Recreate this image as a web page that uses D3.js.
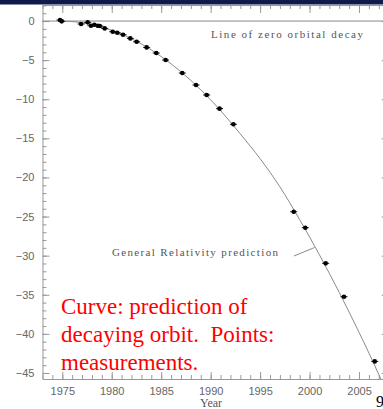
<!DOCTYPE html>
<html>
<head>
<meta charset="utf-8">
<script src="https://cdn.jsdelivr.net/npm/d3@7"></script>
<style>
  html, body { margin: 0; padding: 0; background: #fff; }
  svg { display: block; }
</style>
</head>
<body>
<svg id="chart" width="383" height="409"></svg>
<script>
// measured orbital decay (cumulative periastron shift, s) vs year
const years = [1974.77, 1974.94, 1976.9, 1977.57, 1977.9, 1978.24, 1978.58, 1978.8, 1979.29,
  1980.1, 1980.56, 1981.14, 1981.88, 1982.52, 1983.53, 1984.5, 1985.45, 1987.13, 1988.52,
  1989.6, 1990.9, 1992.3, 1998.4, 1999.57, 2001.63, 2003.48, 2006.59];
const shifts = [0.13, -0.04, -0.38, -0.17, -0.6, -0.47, -0.6, -0.64, -0.94,
  -1.37, -1.5, -1.75, -2.22, -2.65, -3.37, -4.09, -4.99, -6.65, -8.18,
  -9.46, -11.2, -13.2, -24.39, -26.43, -30.98, -35.25, -43.52];

// General Relativity prediction curve
const curveYears = [1974.8, 1977, 1979, 1981, 1983, 1985, 1987, 1989, 1991, 1993,
  1995, 1997, 1999, 2001, 2003, 2005, 2007, 2008];
const curveShift = [0, -0.21, -0.77, -1.68, -2.93, -4.54, -6.49, -8.79, -11.44, -14.44,
  -17.6, -21.2, -25.4, -29.9, -34.7, -39.8, -45.2, -48.1];

const yearTicks = [1975, 1980, 1985, 1990, 1995, 2000, 2005];
const shiftTicks = [0, -5, -10, -15, -20, -25, -30, -35, -40, -45];

const svg = d3.select('#chart');
const W = 383, H = 409;
const plot = { left: 42.5, right: 388.7, top: 5, bottom: 379 };

const x = d3.scaleLinear().domain([1973, 2008]).range([plot.left, plot.right]);
const y = d3.scaleLinear().domain([2.05, -45.77]).range([plot.top, plot.bottom]);

const axisColor = '#9a9a9a';
const labelColor = '#666';

svg.append('defs').append('clipPath').attr('id', 'plot-clip')
  .append('rect')
  .attr('x', plot.left).attr('y', plot.top)
  .attr('width', plot.right - plot.left).attr('height', plot.bottom - plot.top);

// axes
function styleAxis(sel) {
  sel.selectAll('path').attr('stroke', axisColor).attr('stroke-width', 1);
  sel.selectAll('line').attr('stroke', axisColor).attr('stroke-width', 1);
  sel.selectAll('text').attr('fill', labelColor)
    .style('font-family', '"Liberation Sans", Arial, sans-serif').style('font-size', '11px');
}

const minorYears = d3.range(1973, 2009);
const minorShift = d3.range(2, -46, -1);

// bottom
svg.append('g').attr('transform', `translate(0,${plot.bottom})`)
  .call(d3.axisBottom(x).tickValues(minorYears).tickFormat('').tickSize(-4).tickSizeOuter(0))
  .call(styleAxis);
svg.append('g').attr('transform', `translate(0,${plot.bottom})`)
  .call(d3.axisBottom(x).tickValues(yearTicks).tickFormat(d3.format('d')).tickSize(-7).tickSizeOuter(0).tickPadding(8))
  .call(styleAxis)
  .call(g => g.select('.domain').remove());

// top
svg.append('g').attr('transform', `translate(0,${plot.top})`)
  .call(d3.axisTop(x).tickValues(minorYears).tickFormat('').tickSize(-4).tickSizeOuter(0))
  .call(styleAxis);
svg.append('g').attr('transform', `translate(0,${plot.top})`)
  .call(d3.axisTop(x).tickValues(yearTicks).tickFormat('').tickSize(-8).tickSizeOuter(0))
  .call(styleAxis)
  .call(g => g.select('.domain').remove());

// left
svg.append('g').attr('transform', `translate(${plot.left},0)`)
  .call(d3.axisLeft(y).tickValues(minorShift).tickFormat('').tickSize(-4).tickSizeOuter(0))
  .call(styleAxis);
svg.append('g').attr('transform', `translate(${plot.left},0)`)
  .call(d3.axisLeft(y).tickValues(shiftTicks).tickSize(-7).tickSizeOuter(0).tickPadding(8))
  .call(styleAxis)
  .call(g => g.select('.domain').remove());

// right (mostly off the slide)
svg.append('g').attr('transform', `translate(${plot.right},0)`)
  .call(d3.axisRight(y).tickValues(shiftTicks).tickFormat('').tickSize(-7).tickSizeOuter(0))
  .call(styleAxis);

// line of zero decay
svg.append('line')
  .attr('x1', plot.left).attr('x2', plot.right)
  .attr('y1', y(0)).attr('y2', y(0))
  .attr('stroke', '#8a8a8a').attr('stroke-width', 1);

// GR prediction curve
const line = d3.line().x(d => x(d[0])).y(d => y(d[1])).curve(d3.curveMonotoneX);
svg.append('path')
  .datum(d3.zip(curveYears, curveShift))
  .attr('clip-path', 'url(#plot-clip)')
  .attr('d', line)
  .attr('fill', 'none').attr('stroke', '#8a8a8a').attr('stroke-width', 1);

// measurements with small error bars
const pts = svg.append('g');
d3.zip(years, shifts).forEach(([yr, v]) => {
  pts.append('line')
    .attr('x1', x(yr) - 3.5).attr('x2', x(yr) + 3.5)
    .attr('y1', y(v)).attr('y2', y(v))
    .attr('stroke', '#111').attr('stroke-width', 1);
  pts.append('circle')
    .attr('cx', x(yr)).attr('cy', y(v)).attr('r', 2.3)
    .attr('fill', '#000');
});

// plot annotations
const noteFont = '"Liberation Serif", "DejaVu Serif", serif';
svg.append('text')
  .attr('x', 211).attr('y', 37.5)
  .attr('textLength', 152).attr('lengthAdjust', 'spacing')
  .attr('fill', '#555').style('font-family', noteFont).style('font-size', '11px')
  .text('Line of zero orbital decay');

svg.append('text')
  .attr('x', 112).attr('y', 256)
  .attr('textLength', 166).attr('lengthAdjust', 'spacing')
  .attr('fill', '#555').style('font-family', noteFont).style('font-size', '11px')
  .text('General Relativity prediction');
svg.append('line')
  .attr('x1', 294).attr('y1', 256).attr('x2', 314.5).attr('y2', 247.5)
  .attr('stroke', '#8a8a8a').attr('stroke-width', 1);

svg.append('text')
  .attr('x', 211).attr('y', 407).attr('text-anchor', 'middle')
  .attr('fill', '#555').style('font-family', noteFont).style('font-size', '12px')
  .text('Year');

// slide overlay: caption in red
const caption = ['Curve: prediction of', 'decaying orbit.  Points:', 'measurements.'];
svg.append('g').selectAll('text').data(caption).enter().append('text')
  .attr('x', 61).attr('y', (d, i) => 313.5 + i * 28)
  .attr('fill', '#ff0000')
  .style('font-family', '"Liberation Serif", "Times New Roman", serif')
  .style('font-size', '23px').style('white-space', 'pre')
  .text(d => d);

// top banner of the slide and page number
svg.append('rect').attr('x', 0).attr('y', 0).attr('width', W).attr('height', 4.5).attr('fill', '#0d1a4a');
svg.append('text')
  .attr('x', 376).attr('y', 407)
  .attr('fill', '#000')
  .style('font-family', '"Liberation Serif", serif').style('font-size', '16px')
  .text('9');
</script>
</body>
</html>
